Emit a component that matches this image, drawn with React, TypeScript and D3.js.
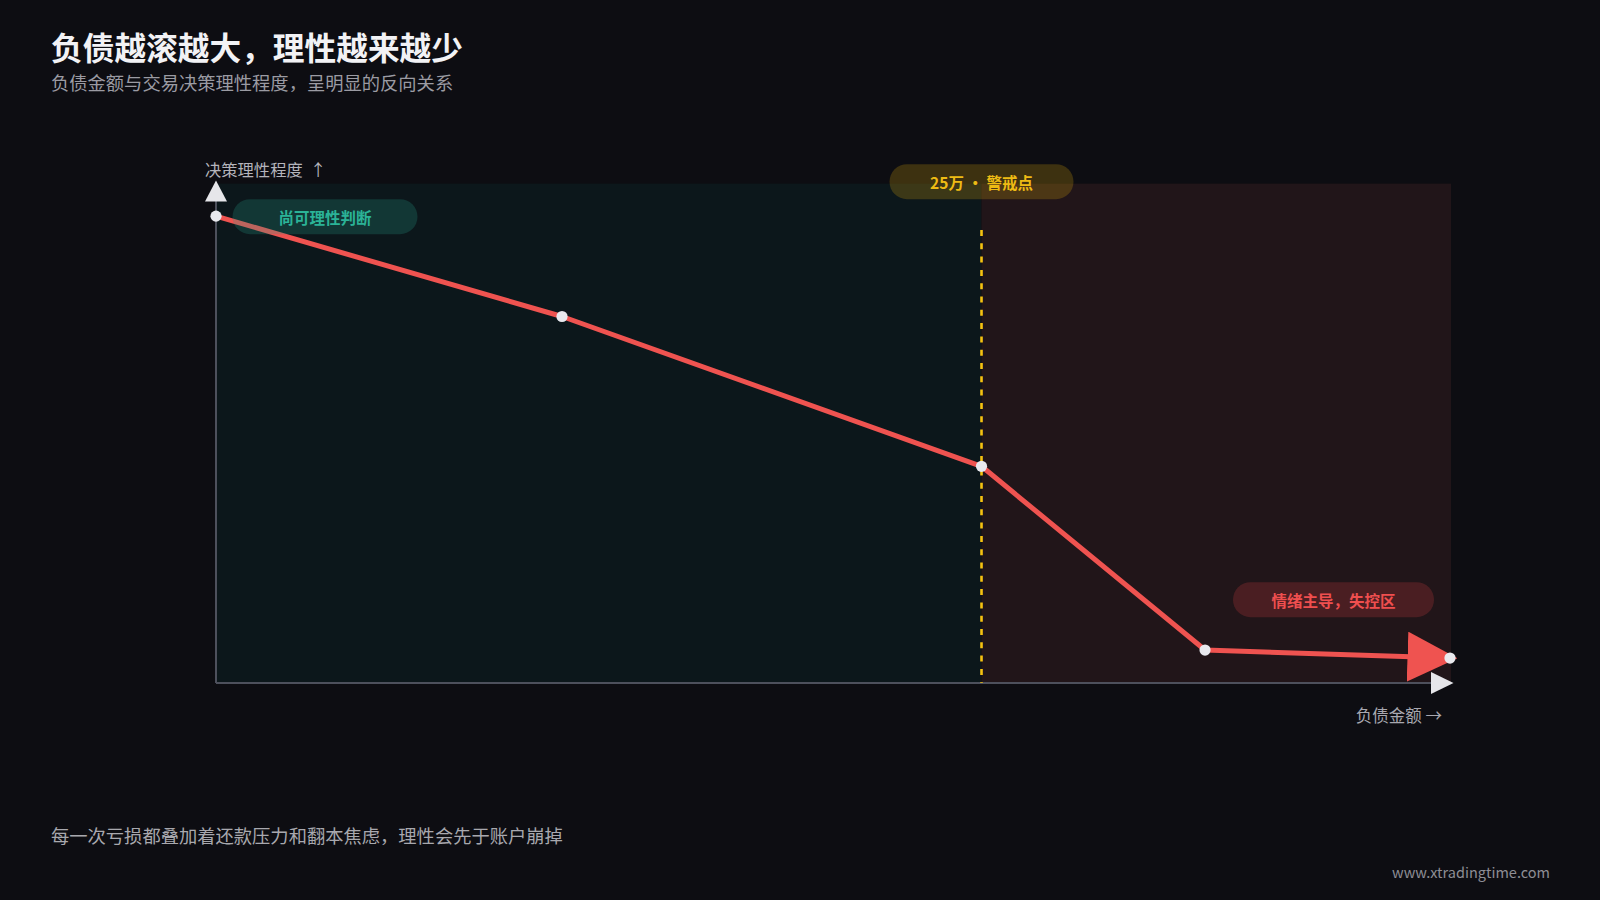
import { useEffect, useRef } from "react";
import * as d3 from "d3";

// debt amount (万) vs. decision rationality (0-100)
const debtWan = [0, 11.3, 25, 32.3, 40.3];
const rationality = [93.5, 73.4, 43.4, 6.6, 5.0];
const warningDebt = 25;
const warningLabel = "25万 · 警戒点";
const safeZoneLabel = "尚可理性判断";
const dangerZoneLabel = "情绪主导，失控区";
const yAxisLabel = "决策理性程度  ↑";
const xAxisLabel = "负债金额 →";
const titleText = "负债越滚越大，理性越来越少";
const subtitleText = "负债金额与交易决策理性程度，呈明显的反向关系";
const footnoteText = "每一次亏损都叠加着还款压力和翻本焦虑，理性会先于账户崩掉";
const sourceText = "www.xtradingtime.com";

const FONT = "'Noto Sans CJK SC', 'Noto Sans', sans-serif";

export default function App() {
  const svgRef = useRef<SVGSVGElement | null>(null);

  useEffect(() => {
    if (!svgRef.current) return;
    const svg = d3.select(svgRef.current);
    svg.selectAll("*").remove();

    const width = 1600;
    const height = 900;
    const left = 216;
    const right = 1451;
    const top = 183.7;
    const bottom = 683;

    const x = d3.scaleLinear().domain([0, 40.3]).range([left, 1450]);
    const y = d3.scaleLinear().domain([0, 100]).range([bottom, top]);
    const rows = debtWan.map((d, i) => ({ x: d, y: rationality[i] }));
    const warnX = x(warningDebt);

    svg.attr("viewBox", `0 0 ${width} ${height}`);

    const defs = svg.append("defs");
    defs
      .append("marker")
      .attr("id", "line-arrow")
      .attr("viewBox", "0 0 10 10")
      .attr("markerUnits", "strokeWidth")
      .attr("markerWidth", 10)
      .attr("markerHeight", 10)
      .attr("refX", 8.5)
      .attr("refY", 5)
      .attr("orient", "auto")
      .append("path")
      .attr("d", "M0,0 L10,5 L0,10 Z")
      .attr("fill", "#ef5350");

    svg
      .append("rect")
      .attr("width", width)
      .attr("height", height)
      .attr("fill", "#0d0d12");

    // zones
    svg
      .append("rect")
      .attr("x", left)
      .attr("y", top)
      .attr("width", warnX - left)
      .attr("height", bottom - top)
      .attr("fill", "#0c171b");
    svg
      .append("rect")
      .attr("x", warnX)
      .attr("y", top)
      .attr("width", right - warnX)
      .attr("height", bottom - top)
      .attr("fill", "#211519");

    // axes
    const axisColor = "#4d505c";
    svg
      .append("line")
      .attr("x1", left)
      .attr("x2", left)
      .attr("y1", 200)
      .attr("y2", bottom)
      .attr("stroke", axisColor)
      .attr("stroke-width", 2);
    svg
      .append("line")
      .attr("x1", left)
      .attr("x2", 1432)
      .attr("y1", bottom)
      .attr("y2", bottom)
      .attr("stroke", axisColor)
      .attr("stroke-width", 2);
    svg
      .append("path")
      .attr("d", `M${left},180.5 L${left + 11},201.5 L${left - 11},201.5 Z`)
      .attr("fill", "#e6e6ea");
    svg
      .append("path")
      .attr("d", `M1453.5,${bottom} L1431,${bottom - 11} L1431,${bottom + 11} Z`)
      .attr("fill", "#e6e6ea");

    // warning line
    svg
      .append("line")
      .attr("x1", warnX)
      .attr("x2", warnX)
      .attr("y1", 230)
      .attr("y2", bottom)
      .attr("stroke", "#f5c211")
      .attr("stroke-width", 2.6)
      .attr("stroke-dasharray", "6 7.3");

    // curve
    const line = d3
      .line<(typeof rows)[number]>()
      .x((d) => x(d.x))
      .y((d) => y(d.y));
    svg
      .append("path")
      .datum(rows)
      .attr("d", line)
      .attr("fill", "none")
      .attr("stroke", "#ef5350")
      .attr("stroke-width", 5)
      .attr("stroke-linejoin", "round")
      .attr("marker-end", "url(#line-arrow)");

    svg
      .selectAll("circle.point")
      .data(rows)
      .join("circle")
      .attr("class", "point")
      .attr("cx", (d) => x(d.x))
      .attr("cy", (d) => y(d.y))
      .attr("r", 5.6)
      .attr("fill", "#e9e9ee");

    // pills
    const pill = (
      cx: number,
      cy: number,
      w: number,
      fill: string,
      color: string,
      text: string,
    ) => {
      const g = svg.append("g");
      g.append("rect")
        .attr("x", cx - w / 2)
        .attr("y", cy - 17.5)
        .attr("width", w)
        .attr("height", 35)
        .attr("rx", 17.5)
        .attr("fill", fill);
      g.append("text")
        .attr("x", cx)
        .attr("y", cy)
        .attr("text-anchor", "middle")
        .attr("dominant-baseline", "central")
        .attr("font-family", FONT)
        .attr("font-size", 15.5)
        .attr("font-weight", 600)
        .attr("fill", color)
        .text(text);
    };
    pill(325, 216.7, 185, "rgba(34,150,130,0.25)", "#2bb397", safeZoneLabel);
    pill(warnX, 181.7, 184, "rgba(234,179,8,0.22)", "#eebb14", warningLabel);
    pill(1333.5, 599.7, 201, "rgba(239,68,68,0.2)", "#ef4f4f", dangerZoneLabel);

    // texts
    const text = (
      tx: number,
      ty: number,
      size: number,
      color: string,
      content: string,
      anchor = "start",
      weight = 400,
    ) =>
      svg
        .append("text")
        .attr("x", tx)
        .attr("y", ty)
        .attr("text-anchor", anchor)
        .attr("dominant-baseline", "central")
        .attr("font-family", FONT)
        .attr("font-size", size)
        .attr("font-weight", weight)
        .attr("fill", color)
        .style("white-space", "pre")
        .text(content);

    text(51, 46, 31.7, "#f2f2f5", titleText, "start", 700);
    text(51, 81.5, 18.3, "#9b9ba3", subtitleText);
    text(205, 168.5, 16.3, "#b4b4bb", yAxisLabel);
    text(1442, 715, 16.5, "#a8a8b0", xAxisLabel, "end");
    text(51, 835, 18.3, "#a8a8ae", footnoteText);
    text(1550, 871, 14.5, "#8e8e95", sourceText, "end");
  }, []);

  return (
    <svg
      ref={svgRef}
      width={1600}
      height={900}
      style={{ position: "fixed", left: 0, top: 0, display: "block" }}
    />
  );
}
